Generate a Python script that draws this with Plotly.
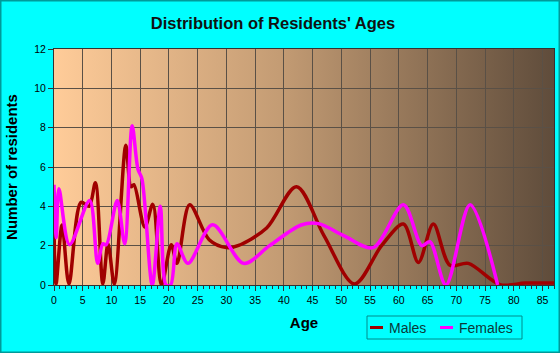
import base64
import plotly.graph_objects as go

# ---- data ----
male_age = [0, 0.35, 1.4, 2.6, 4.7, 6.1, 7.2, 8.5, 9.4, 10.5, 12.5, 13.4, 13.9, 15.8, 17.2, 18.7,
            20.4, 21.4, 23.6, 27, 30, 32, 37, 42.2, 47, 52.3, 57, 60.8, 63.4, 66.0, 68.9, 72.1,
            77.6, 82, 87]
male_val = [3.0, 0.05, 3.05, 0.05, 4.2, 4.0, 5.2, 0.05, 2.1, 0.05, 7.1, 5.0, 5.1, 2.95, 4.1, 0.0,
            2.05, 1.1, 4.08, 2.3, 1.9, 2.0, 2.9, 5.0, 2.5, 0.05, 2.0, 3.1, 1.15, 3.1, 1.0, 1.1,
            0.02, 0.1, 0.1]

female_age = [0, 0.4, 0.85, 2.7, 6.2, 7.6, 8.5, 9.1, 11.0, 12.3, 13.6, 14.6, 15.3, 17.1, 18.5,
              19.5, 20.3, 21.4, 23.3, 27.6, 33.0, 37.5, 43, 46, 50.5, 55.5, 60.8, 64.0, 65.4,
              68.2, 72.4, 77.2]
female_val = [5.1, 2.4, 4.9, 2.05, 4.3, 1.1, 2.1, 2.05, 4.3, 2.1, 8.1, 5.9, 5.4, 0.0, 4.0,
              0.0, 0.0, 2.1, 1.1, 3.06, 1.1, 2.0, 3.05, 3.12, 2.5, 1.9, 4.08, 2.0, 2.2,
              0.0, 4.08, 0.0]

series_names = ["Males", "Females"]
series_colors = ["#A00000", "#FF00FF"]

X_MAX = 87
Y_MAX = 12

fig = go.Figure()

fig.add_trace(go.Scatter(x=male_age, y=male_val, name=series_names[0], mode="lines", showlegend=False,
                         line=dict(color=series_colors[0], width=3.5, shape="spline", smoothing=0.9)))
fig.add_trace(go.Scatter(x=female_age, y=female_val, name=series_names[1], mode="lines", showlegend=False,
                         line=dict(color=series_colors[1], width=3.5, shape="spline", smoothing=0.9)))

svg = ('<svg xmlns="http://www.w3.org/2000/svg" width="500" height="236" preserveAspectRatio="none">'
       '<defs><linearGradient id="g" x1="0" y1="0" x2="1" y2="0">'
       '<stop offset="0" stop-color="#FFCC99"/>'
       '<stop offset="0.45" stop-color="#C49C74"/>'
       '<stop offset="1" stop-color="#5F4C3B"/>'
       '</linearGradient></defs>'
       '<rect width="500" height="236" fill="url(#g)"/></svg>')
src = "data:image/svg+xml;base64," + base64.b64encode(svg.encode()).decode()

W, H = 560, 353
ml, mr, mt, mb = 54, 6, 49, 68
pw, ph = W - ml - mr, H - mt - mb


def px(xp):
    return (xp - ml) / pw


def py(yp):
    return (H - mb - yp) / ph


fig.add_layout_image(dict(source=src, xref="x", yref="y", x=0, y=Y_MAX, sizex=X_MAX, sizey=Y_MAX,
                          xanchor="left", yanchor="top", sizing="stretch", layer="below"))

shapes = [
    dict(type="rect", xref="paper", yref="paper", x0=px(0), x1=px(W), y0=py(H), y1=py(0),
         line=dict(color="#009A9A", width=3), fillcolor="rgba(0,0,0,0)", layer="above"),
    dict(type="rect", xref="paper", yref="paper", x0=px(367), x1=px(522), y0=py(339), y1=py(316),
         line=dict(color="#008B8B", width=1), fillcolor="rgba(0,0,0,0)", layer="above"),
]
annotations = []
leg_line_x = [370, 440]
leg_text_x = [387, 457]
leg_y = 327.5
for i, name in enumerate(series_names):
    shapes.append(dict(type="line", xref="paper", yref="paper",
                       x0=px(leg_line_x[i]), x1=px(leg_line_x[i] + 13), y0=py(leg_y), y1=py(leg_y),
                       line=dict(color=series_colors[i], width=3), layer="above"))
    annotations.append(dict(xref="paper", yref="paper", x=px(leg_text_x[i]), y=py(leg_y),
                            xanchor="left", yanchor="middle", showarrow=False, text=name,
                            font=dict(size=14, color="#0A3A3A")))

fig.update_layout(
    template="none",
    width=W, height=H,
    margin=dict(l=ml, r=mr, t=mt, b=mb),
    paper_bgcolor="#00FFFF",
    plot_bgcolor="#FFCC99",
    shapes=shapes,
    annotations=annotations,
    showlegend=False,
    font=dict(family="Liberation Sans, Arial, sans-serif", color="#000000"),
    title=dict(text="<b>Distribution of Residents' Ages</b>", x=273 / W, xanchor="center",
               y=1 - 23 / H, yanchor="middle", font=dict(size=16.5, color="#111111")),
    xaxis=dict(range=[0, X_MAX], tickmode="linear", tick0=0, dtick=5,
               showgrid=True, gridcolor="#5A5046", gridwidth=1,
               ticks="outside", ticklen=5, tickcolor="#333333",
               minor=dict(tickmode="linear", tick0=0, dtick=1, ticks="outside", ticklen=3,
                          tickcolor="#333333", showgrid=False),
               showline=True, linecolor="#333333", mirror=True, zeroline=False,
               tickfont=dict(size=10.5), fixedrange=True,
               title=dict(text="<b>Age</b>", font=dict(size=15), standoff=12)),
    yaxis=dict(range=[0, Y_MAX], tickmode="linear", tick0=0, dtick=2,
               showgrid=True, gridcolor="#5A5046", gridwidth=1,
               ticks="outside", ticklen=5, tickcolor="#333333",
               showline=True, linecolor="#333333", mirror=True, zeroline=False,
               tickfont=dict(size=10.5), fixedrange=True,
               title=dict(text="<b>Number of residents</b>", font=dict(size=15), standoff=12)),
)

fig.write_html("out.html")
